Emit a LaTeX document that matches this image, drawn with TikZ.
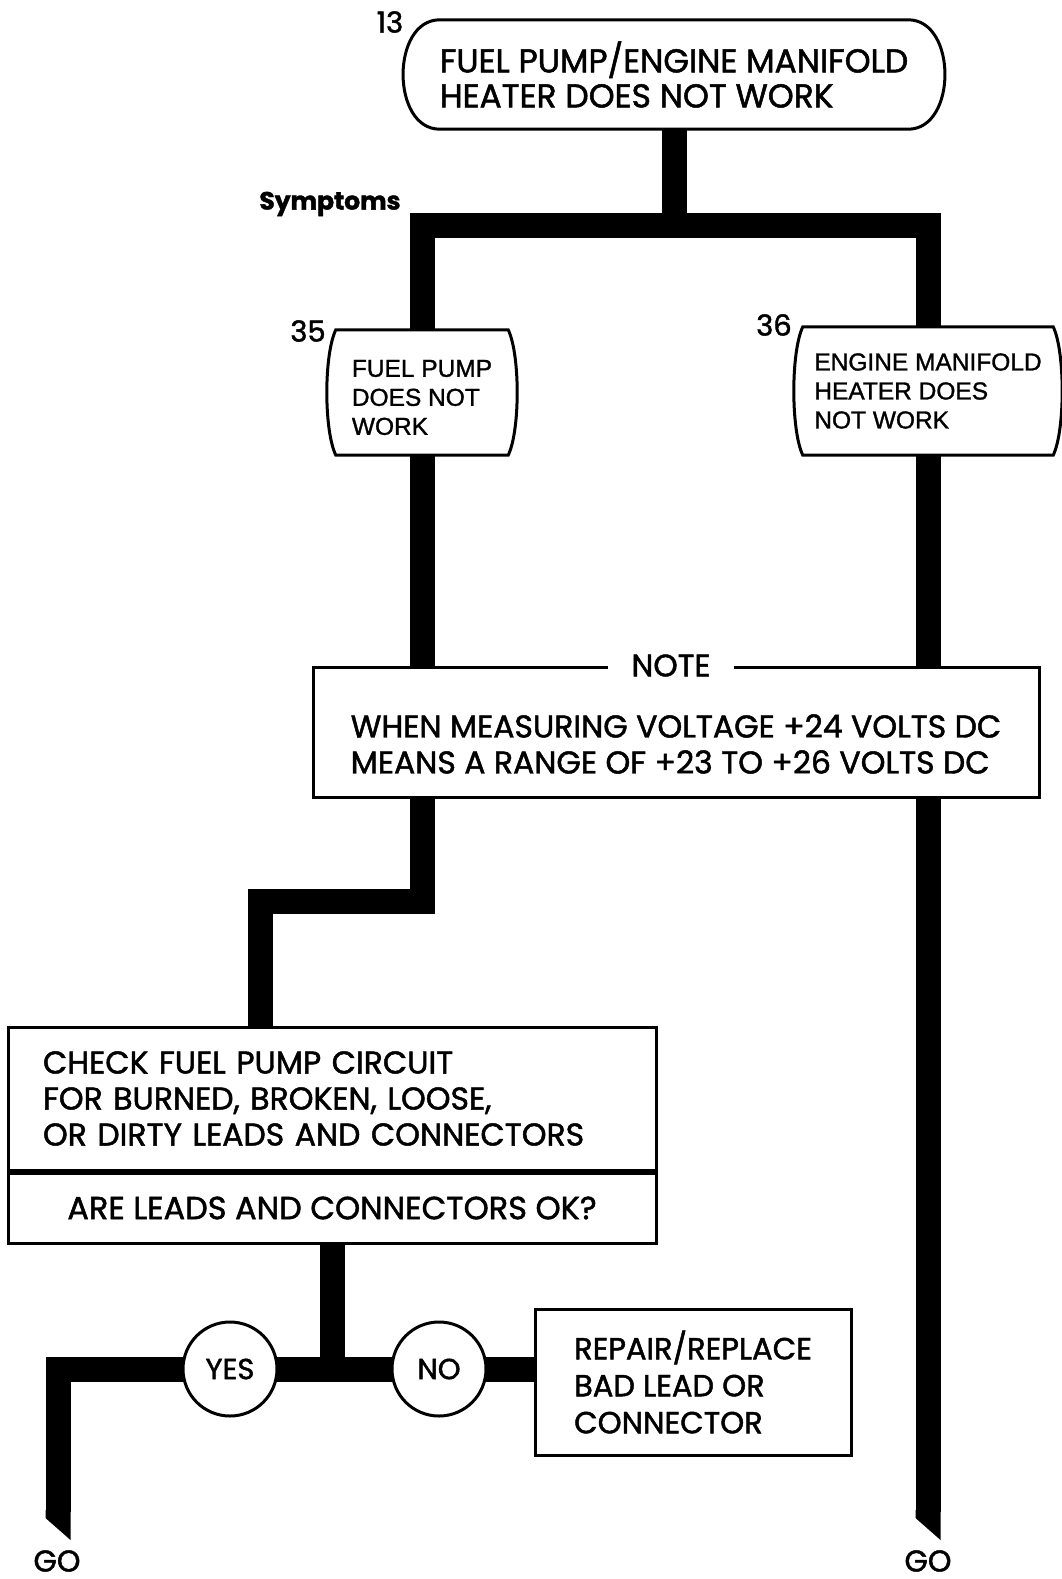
\documentclass[tikz,border=0pt]{standalone}
\usepackage{fontspec}
\setmainfont{Poppins}[FakeBold=1.5]
\newfontfamily\helv{Liberation Sans}[FakeBold=1.2]
\usetikzlibrary{positioning,backgrounds}

\begin{document}
\begin{tikzpicture}[x=1pt,y=-1pt, every node/.style={inner sep=0pt}]
\tikzstyle{flow}=[line width=25pt,line join=miter]
\tikzstyle{frame}=[line width=3pt,fill=white]
\tikzstyle{box}=[draw,frame,rectangle,align=left]
\tikzstyle{symp}=[align=left,font=\helv\fontsize{24.5}{29}\selectfont]
\tikzstyle{num}=[font=\fontsize{29}{32}\selectfont]
\tikzstyle{answer}=[draw,frame,circle,minimum size=94pt,font=\fontsize{29}{32}\selectfont]
\useasboundingbox (0,0) rectangle (1062,1579);

% start
\node[minimum width=468pt,minimum height=109pt] (fault) at (674,74.5) {};
\draw[frame] (fault.north west) -- (fault.north east) .. controls +(49,0) and +(49,0) .. (fault.south east) -- (fault.south west) .. controls +(-49,0) and +(-49,0) .. (fault.north west) -- cycle;
\node[align=left,font=\fontsize{33}{35}\selectfont] (faulttxt) at (fault) {FUEL PUMP/ENGINE MANIFOLD\\HEATER DOES NOT WORK};
\node[num] (n13) at (390,22) {13};
\node[font=\bfseries\fontsize{25}{30}\selectfont] (symlbl) at (330,204) {Symptoms};

% symptoms
\node[minimum width=172pt,minimum height=125pt] (b35) at (422,392.5) {};
\draw[frame] (b35.north west) -- (b35.north east) .. controls +(12,25) and +(12,-25) .. (b35.south east) -- (b35.south west) .. controls +(-12,-25) and +(-12,25) .. (b35.north west) -- cycle;
\node[symp] (b35txt) at ([yshift=-5pt]b35.center) {FUEL PUMP\\DOES NOT\\WORK};
\node[num] (n35) at (308,331) {35};
\node[minimum width=250pt,minimum height=128pt] (b36) at (928,391) {};
\draw[frame] (b36.north west) -- (b36.north east) .. controls +(12,25) and +(12,-25) .. (b36.south east) -- (b36.south west) .. controls +(-12,-25) and +(-12,25) .. (b36.north west) -- cycle;
\node[symp] (b36txt) at (b36) {ENGINE MANIFOLD\\HEATER DOES\\NOT WORK};
\node[num] (n36) at (774,325) {36};

% note
\node[box,minimum width=726pt,minimum height=130pt] (note) at (676,732) {};
\node[fill=white,inner xsep=24pt,font=\fontsize{31}{36}\selectfont] (notehead) at ([xshift=-5pt]note.north) {NOTE};
\node[align=left,font=\fontsize{31.5}{36}\selectfont] (notetxt) at ([yshift=-12pt]note.center) {WHEN MEASURING VOLTAGE +24 VOLTS DC\\MEANS A RANGE OF +23 TO +26 VOLTS DC};

% check
\node[box,minimum width=648pt,minimum height=143pt,text width=578pt,font=\fontsize{31.5}{36}\selectfont] (chk) at (332,1098.5) {CHECK FUEL PUMP CIRCUIT\\FOR BURNED, BROKEN, LOOSE,\\OR DIRTY LEADS AND CONNECTORS};
\node[box,align=center,minimum width=648pt,minimum height=70pt,font=\fontsize{32}{36}\selectfont,below=0pt of chk] (ask) {ARE LEADS AND CONNECTORS OK?};
\node[answer] (yes) at (230,1369) {YES};
\node[answer] (no) at (439,1369) {NO};
\node[box,minimum width=316pt,minimum height=146pt,font=\fontsize{30.5}{37}\selectfont] (rep) at (693,1382) {REPAIR/REPLACE\\BAD LEAD OR\\CONNECTOR};

\coordinate (split) at (676,225);
\coordinate (jog) at (260,901);
\coordinate (tipL) at (58,1512);
\coordinate (tipR) at (928,1512);
\node[num,font=\fontsize{30}{32}\selectfont] (goL) at (57,1561) {GO};
\node[num,font=\fontsize{30}{32}\selectfont] (goR) at (928,1561) {GO};

\begin{scope}[on background layer]
\draw[flow] (fault.south) -- (fault.south |- split);
\draw[flow] (b35.north) -- (b35.north |- split) -- (b36.north |- split) -- (b36.north);
\draw[flow] (b35.south) -- (b35.south |- jog) -- (jog) -- (jog |- chk.north);
\draw[flow] (b36.south) -- (tipR);
\draw[flow] (ask.south) -- (ask.south |- yes);
\draw[flow] (rep.west |- yes) -- (tipL |- yes) -- (tipL);
\end{scope}
\fill (tipL) ++(-12.5,-2) -- ++(25,0) -- ++(0,30) -- ++(-25,-22) -- cycle;
\fill (tipR) ++(-12.5,-2) -- ++(25,0) -- ++(0,30) -- ++(-25,-22) -- cycle;
\end{tikzpicture}
\end{document}
